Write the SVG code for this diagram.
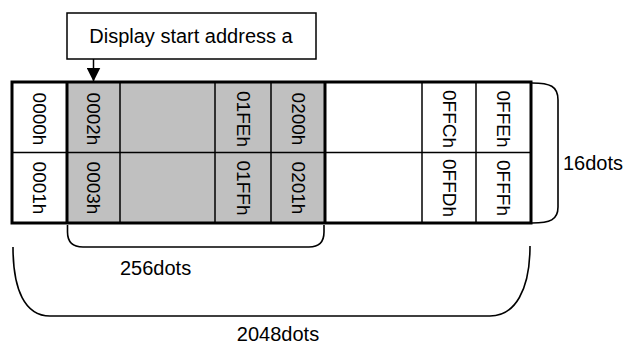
<svg xmlns="http://www.w3.org/2000/svg" width="625" height="345" viewBox="0 0 625 345">
<style>
text{font-family:"Liberation Sans",Arial,sans-serif;fill:#000}
.h{font-size:20px}
.v{font-size:19px;text-anchor:middle;dominant-baseline:central}
.thin{stroke:#000;stroke-width:1.5;fill:none}
.thick{stroke:#000;stroke-width:3;fill:none}
.brace{stroke:#000;stroke-width:1.6;fill:none}
</style>
<defs>
<marker id="ah" markerWidth="14" markerHeight="14" refX="14" refY="7" orient="auto" markerUnits="userSpaceOnUse">
<path d="M0,0 L14,7 L0,14 Z" fill="#000"/>
</marker>
</defs>
<rect x="0" y="0" width="625" height="345" fill="#fff"/>

<g id="label-box">
<rect x="67" y="13" width="249" height="46" fill="#fff" stroke="#000" stroke-width="1.5"/>
<text class="h" x="191" y="43" text-anchor="middle">Display start address a</text>
</g>

<g id="memory">
<rect x="12" y="82" width="519" height="141" fill="#fff"/>
<rect x="67" y="82" width="258" height="141" fill="#c0c0c0"/>
<line class="thin" x1="12" y1="152.5" x2="531" y2="152.5"/>
<line class="thin" x1="120" y1="82" x2="120" y2="223"/>
<line class="thin" x1="215" y1="82" x2="215" y2="223"/>
<line class="thin" x1="271" y1="82" x2="271" y2="223"/>
<line class="thin" x1="422" y1="82" x2="422" y2="223"/>
<line class="thin" x1="476" y1="82" x2="476" y2="223"/>
<line class="thick" x1="67" y1="82" x2="67" y2="223"/>
<line class="thick" x1="325" y1="82" x2="325" y2="223"/>
<rect class="thick" x="12" y="82" width="519" height="141"/>
</g>

<g id="cells">
<text class="v" transform="translate(39.5,119) rotate(90)">0000h</text>
<text class="v" transform="translate(39.5,188) rotate(90)">0001h</text>
<text class="v" transform="translate(93.5,119) rotate(90)">0002h</text>
<text class="v" transform="translate(93.5,188) rotate(90)">0003h</text>
<text class="v" transform="translate(243,119) rotate(90)">01FEh</text>
<text class="v" transform="translate(243,188) rotate(90)">01FFh</text>
<text class="v" transform="translate(298,119) rotate(90)">0200h</text>
<text class="v" transform="translate(298,188) rotate(90)">0201h</text>
<text class="v" transform="translate(449,119) rotate(90)">0FFCh</text>
<text class="v" transform="translate(449,188) rotate(90)">0FFDh</text>
<text class="v" transform="translate(503.5,119) rotate(90)">0FFEh</text>
<text class="v" transform="translate(503.5,188) rotate(90)">0FFFh</text>
</g>

<g id="connectors">
<line x1="93.5" y1="59" x2="93.5" y2="81.5" stroke="#000" stroke-width="1.5" marker-end="url(#ah)"/>
<path class="brace" d="M532,83 C550,83 558,86 558,100 L558,207 C558,220 550,223 532,223"/>
<path class="brace" d="M67.5,225 L67.5,232 C67.5,242 73,247 83,247 L309,247 C319,247 324,242 324,232 L324,225"/>
<path class="brace" d="M13,247 C13,290 25,316 50,316 L490,316 C515,316 530,290 530,246"/>
</g>

<g id="labels">
<text class="h" x="563" y="170">16dots</text>
<text class="h" x="120" y="275">256dots</text>
<text class="h" x="278" y="341" text-anchor="middle">2048dots</text>
</g>
</svg>
